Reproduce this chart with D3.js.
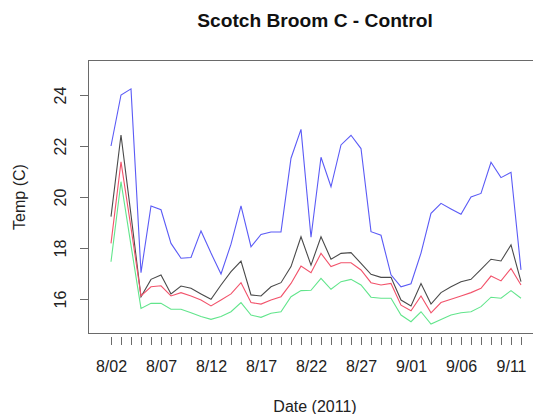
<!DOCTYPE html>
<html>
<head>
<meta charset="utf-8">
<script src="https://cdn.jsdelivr.net/npm/d3@7.9.0/dist/d3.min.js"></script>
<style>
  body { margin: 0; background: #fff; }
  svg { display: block; font-family: "Liberation Sans", Arial, sans-serif; }
</style>
</head>
<body>
<svg width="533" height="414"></svg>
<script>
// daily readings, 8/02 .. 9/12 2011
const startDate = new Date(2011, 7, 2);
const blueTemps = [22.0, 24.0, 24.24, 17.03, 19.65, 19.5, 18.18, 17.6, 17.63, 18.67,
  17.8, 16.98, 18.15, 19.65, 18.05, 18.53, 18.63, 18.63, 21.52, 22.65,
  18.42, 21.56, 20.4, 22.04, 22.42, 21.9, 18.64, 18.5, 16.95, 16.48,
  16.6, 17.8, 19.36, 19.75, 19.53, 19.32, 20.0, 20.14, 21.36, 20.76,
  20.97, 17.14];
const blackTemps = [19.23, 22.43, 19.3, 16.09, 16.77, 16.94, 16.2, 16.51, 16.42, 16.2,
  15.99, 16.55, 17.07, 17.49, 16.16, 16.12, 16.48, 16.64, 17.27, 18.44,
  17.33, 18.44, 17.56, 17.79, 17.82, 17.4, 16.97, 16.85, 16.85, 15.96,
  15.73, 16.61, 15.8, 16.25, 16.48, 16.68, 16.77, 17.16, 17.56, 17.49,
  18.12, 16.68];
const redTemps = [18.18, 21.38, 18.8, 16.12, 16.48, 16.52, 16.12, 16.25, 16.12, 15.96,
  15.73, 15.96, 16.2, 16.64, 15.86, 15.8, 15.96, 16.09, 16.61, 17.29,
  17.03, 17.79, 17.27, 17.42, 17.42, 17.14, 16.64, 16.55, 16.61, 15.76,
  15.54, 16.12, 15.46, 15.86, 15.99, 16.12, 16.25, 16.42, 16.9, 16.71,
  17.2, 16.55];
const greenTemps = [17.46, 20.6, 18.1, 15.63, 15.83, 15.83, 15.6, 15.6, 15.46, 15.31,
  15.2, 15.31, 15.5, 15.86, 15.37, 15.28, 15.44, 15.5, 16.09, 16.33,
  16.34, 16.81, 16.38, 16.68, 16.77, 16.55, 16.07, 16.03, 16.03, 15.37,
  15.11, 15.5, 15.02, 15.2, 15.37, 15.46, 15.5, 15.7, 16.07, 16.03,
  16.33, 16.03];
const yTicks = [16, 18, 20, 22, 24];

const series = [
  { values: blueTemps, color: "#5b5bf6" },
  { values: blackTemps, color: "#4a4a4a" },
  { values: redTemps, color: "#f2536b" },
  { values: greenTemps, color: "#62e58c" }
];

const dates = blueTemps.map((d, i) => d3.timeDay.offset(startDate, i));
const endDate = dates[dates.length - 1];

const svg = d3.select("svg");
const box = { left: 88, top: 60, right: 542, bottom: 333 };

const x = d3.scaleTime().domain([startDate, endDate]).range([111, 521]);
const y = d3.scaleLinear().domain([16, 24]).range([299, 95]);

// plot frame
svg.append("rect")
  .attr("x", box.left + 0.5).attr("y", box.top + 0.5)
  .attr("width", box.right - box.left).attr("height", box.bottom - box.top)
  .attr("fill", "none").attr("stroke", "#6a6a6a").attr("stroke-width", 1);

// lines
const line = d3.line()
  .x((d, i) => x(dates[i]))
  .y(d => y(d));

series.forEach(s => {
  svg.append("path")
    .datum(s.values)
    .attr("d", line)
    .attr("fill", "none")
    .attr("stroke", s.color)
    .attr("stroke-width", 1.1)
    .attr("stroke-linejoin", "miter");
});

// x axis: ticks every day, labels every 5 days
const xAxis = d3.axisBottom(x)
  .ticks(d3.timeDay.every(1))
  .tickSizeInner(8).tickSizeOuter(0)
  .tickFormat(d => {
    const k = d3.timeDay.count(startDate, d);
    return k % 5 === 0 ? d3.timeFormat("%-m/%d")(d) : "";
  });
const gx = svg.append("g").attr("transform", "translate(0,337)").call(xAxis);
gx.select(".domain").remove();
gx.selectAll(".tick line").attr("stroke", "#6a6a6a");
gx.selectAll(".tick text")
  .attr("y", 0).attr("dy", 0)
  .attr("transform", "translate(0,35)")
  .style("font-size", "16px").attr("fill", "#222");

// y axis
const yAxis = d3.axisLeft(y).tickValues(yTicks).tickSizeInner(8).tickSizeOuter(0);
const gy = svg.append("g").attr("transform", `translate(${box.left},0)`).call(yAxis);
gy.select(".domain").remove();
gy.selectAll(".tick line").attr("stroke", "#6a6a6a");
gy.selectAll(".tick text")
  .attr("x", 0).attr("dy", 0)
  .attr("text-anchor", "middle")
  .attr("transform", "translate(-22,0) rotate(-90)")
  .style("font-size", "16px").attr("fill", "#222");

// titles
svg.append("text")
  .attr("x", 315).attr("y", 27)
  .attr("text-anchor", "middle")
  .style("font-size", "19.2px").style("font-weight", "bold")
  .attr("fill", "#111")
  .text("Scotch Broom C - Control");

svg.append("text")
  .attr("x", 315).attr("y", 412)
  .attr("text-anchor", "middle")
  .style("font-size", "16px").attr("fill", "#222")
  .text("Date (2011)");

svg.append("text")
  .attr("transform", `translate(25,197) rotate(-90)`)
  .attr("text-anchor", "middle")
  .style("font-size", "16px").attr("fill", "#222")
  .text("Temp (C)");
</script>
</body>
</html>
